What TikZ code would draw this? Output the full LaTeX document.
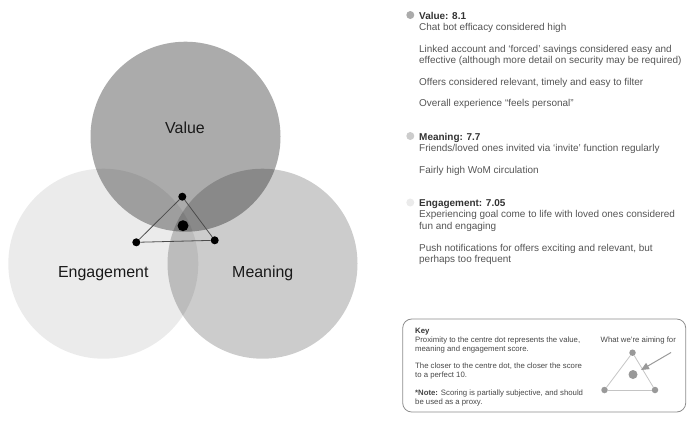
\documentclass[tikz,border=0pt]{standalone}
\usepackage{fontspec}
\setmainfont{Liberation Sans}
\usetikzlibrary{arrows.meta}
\definecolor{bodygray}{HTML}{555555}
\definecolor{headgray}{HTML}{333333}
\definecolor{keydot}{HTML}{999999}
\definecolor{keyline}{HTML}{C4C4C4}
\begin{document}
\begin{tikzpicture}[x=1bp,y=-1bp,
  venn/.style={circle, draw=none, fill=black, inner sep=0pt, minimum size=190bp},
  lbl/.style={inner sep=0pt, anchor=base, font=\fontsize{16}{19}\selectfont, text=black!90},
  dot/.style={circle, fill=black, inner sep=0pt, minimum size=8bp},
  bigdot/.style={circle, fill=black, inner sep=0pt, minimum size=11bp},
  tri/.style={draw=black!70, line width=0.8bp},
  bullet/.style={circle, inner sep=0pt, minimum size=8bp, draw=none},
  body/.style={anchor=base west, inner sep=0pt, font=\fontsize{10}{12}\selectfont, text=bodygray},
  head/.style={anchor=base west, inner sep=0pt, font=\fontsize{10}{12}\selectfont\bfseries, text=headgray},
  keytext/.style={anchor=base west, inner sep=0pt, font=\fontsize{7.8}{9}\selectfont, text=black!72},
  kdot/.style={circle, fill=keydot, inner sep=0pt, minimum size=6.5bp},
  kbigdot/.style={circle, fill=keydot, inner sep=0pt, minimum size=9bp},
  kline/.style={draw=keyline, line width=0.8bp},
]
\useasboundingbox (0,0) rectangle (698,421);

% Venn circles
\node[venn, fill opacity=0.08] (eng) at (103.3,263.7) {};
\node[venn, fill opacity=0.20] (mea) at (262.5,263.7) {};
\node[venn, fill opacity=0.33] (val) at (185.5,136.7) {};

\node[lbl] (lval) at (185,133.3) {Value};
\node[lbl] (leng) at (103.3,277.3) {Engagement};
\node[lbl] (lmea) at (262.8,277.3) {Meaning};

% triangle
\node[dot] (t1) at (182.3,196.7) {};
\node[dot] (t2) at (136.3,242.3) {};
\node[dot] (t3) at (214.7,240.3) {};
\node[bigdot] (tc) at (183,225.7) {};
\draw[tri] (t1) -- (t2);
\draw[tri] (t2) -- (t3);
\draw[tri] (t3) -- (t1);

% right-hand text
\node[bullet, fill=black!33] (b1) at (410.3,15) {};
\node[head] (h1) at (419,19) {Value: 8.1};
\node[body] (v1) at (419,30.5) {Chat bot efficacy considered high};
\node[body] (v2) at (419,52) {Linked account and ‘forced’ savings considered easy and};
\node[body] (v3) at (419,63.3) {effective (although more detail on security may be required)};
\node[body] (v4) at (419,85) {Offers considered relevant, timely and easy to filter};
\node[body] (v5) at (419,106.5) {Overall experience “feels personal”};

\node[bullet, fill=black!20] (b2) at (410.3,136) {};
\node[head] (h2) at (419,140) {Meaning: 7.7};
\node[body] (m1) at (419,151.3) {Friends/loved ones invited via ‘invite’ function regularly};
\node[body] (m2) at (419,173.3) {Fairly high WoM circulation};

\node[bullet, fill=black!8] (b3) at (410.3,202.5) {};
\node[head] (h3) at (419,206.5) {Engagement: 7.05};
\node[body] (e1) at (419,217.8) {Experiencing goal come to life with loved ones considered};
\node[body] (e2) at (419,229) {fun and engaging};
\node[body] (e3) at (419,251) {Push notifications for offers exciting and relevant, but};
\node[body] (e4) at (419,262.3) {perhaps too frequent};

% key box
\node[draw=black!45, line width=0.8bp, rounded corners=9bp, minimum width=283bp, minimum height=93bp, inner sep=0pt] (key) at (544.2,365.5) {};
\node[keytext, font=\fontsize{7.8}{9}\selectfont\bfseries, text=headgray] (k0) at (415,333.5) {Key};
\node[keytext] (k1) at (415,342) {Proximity to the centre dot represents the value,};
\node[keytext] (k2) at (415,351.3) {meaning and engagement score.};
\node[keytext] (k3) at (415,368.7) {The closer to the centre dot, the closer the score};
\node[keytext] (k4) at (415,377.5) {to a perfect 10.};
\node[keytext] (k5) at (415,395.3) {\textbf{*Note:} Scoring is partially subjective, and should};
\node[keytext] (k6) at (415,404) {be used as a proxy.};
\node[keytext] (kaim) at (600.5,342) {What we’re aiming for};

\node[kdot] (q1) at (632.5,352.7) {};
\node[kdot] (q2) at (604.5,390) {};
\node[kdot] (q3) at (655,390) {};
\node[kbigdot] (qc) at (633,374.5) {};
\draw[kline] (q1) -- (q2);
\draw[kline] (q2) -- (q3);
\draw[kline] (q3) -- (q1);
\coordinate (qa) at (671,352.5);
\coordinate (qt) at (641,370);
\draw[draw=keydot, line width=1bp, -{Triangle[length=8bp,width=7bp]}] (qa) -- (qt);
\end{tikzpicture}
\end{document}
